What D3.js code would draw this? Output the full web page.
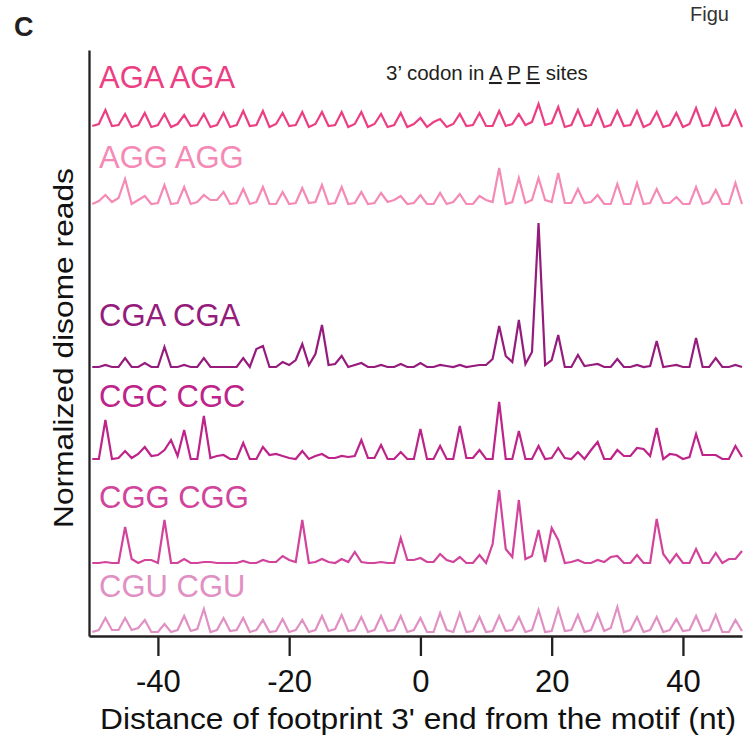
<!DOCTYPE html>
<html>
<head>
<meta charset="utf-8">
<script src="https://cdn.jsdelivr.net/npm/d3@7"></script>
<style>
  body { margin: 0; background: #fff; }
  svg { display: block; font-family: "Liberation Sans", Arial, Helvetica, sans-serif; }
</style>
</head>
<body>
<div id="display"></div>
<script>
// distance of footprint 3' end from the motif (nt)
const positions = d3.range(-50, 50);
const xTicks = [-40, -20, 0, 20, 40];

const codons = ['AGA AGA', 'AGG AGG', 'CGA CGA', 'CGC CGC', 'CGG CGG', 'CGU CGU'];

// normalized disome reads, one value per position
const aga = [0.1,0.3,1.7, 0.1,0.2,1.3, 0,0.2,1.4, 0,0.2,1.3, 0,0.3,1.2, 0.1,0.2,1.3, 0,0.2,1.4, 0,0.2,1.6, 0.1,0.2,1.6, 0,0.3,1.4,
  0.1,0.2,1.5, 0,0.3,1.5, 0.1,0.2,1.5, 0,0.3,1.5, 0,0.3,1.3, 0,0.2,1.4, 0,0.3,0.9, 0,0.5,0.8, 0,0.3,1.3, 0.1,0.2,1.4,
  0.1,0.1,1.6, 0.1,0.3,1.3, 0.2,0.5,2.3, 0.2,0.4,2.0, 0,0.2,1.7, 0.1,0.2,1.7, 0,0.2,1.6, 0.1,0.2,1.6, 0,0.3,1.5, 0,0.2,1.4,
  0,0.3,1.9, 0.1,0.2,1.8, 0.1,0.2,1.6, 0];
const agg = [0,0.3,0.9, 0.2,0.6,2.5, 0,0.4,0.8, 0,0.1,1.9, 0,0.1,1.7, 0,0.2,0.9, 0.4,0.4,1.2, 0,0.1,1.5, 0,0.2,1.7, 0,0,1.2,
  0,0.1,1.6, 0.1,0.2,1.9, 0,0.1,1.7, 0,0.1,1.2, 0,0.1,1.1, 0.2,0.4,0.8, 0,0.1,0.9, 0,0,1.1, 0,0.2,1.0, 0,0,0.8,
  0.4,0.2,3.6, 0,0.2,2.6, 0.1,0.4,2.6, 0.4,0.2,3.1, 0.1,0.1,1.5, 0.1,0.2,0.9, 0,0,2.0, 0,0,2.1, 0,0.1,1.5, 0.1,0.1,0.7,
  0,0,1.7, 0,0.2,1.4, 0,0,2.1, 0];
const cga = [0,0,0.2, 0,0,0.9, 0,0,0.4, 0,0,2.0, 0,0,0.2, 0,0,0.9, 0,0,0, 0,0,0.9, 0,1.8,2.1, 0,0,0.5,
  0.2,0.7,2.3, 0.2,1.3,4.2, 0.2,0.3,1.1, 0,0.2,0.4, 0,0,0.2, 0,0,0.3, 0,0,0.4, 0,0,0.2, 0.1,0,0.2, 0,0.1,0.2,
  0.2,0.8,4.1, 1.1,0.5,4.7, 0.3,1.5,14.4, 0.2,0.7,3.2, 0,0,1.2, 0.1,0.2,0.3, 0,0,0.8, 0,0,0.2, 0,0.1,2.6, 0,0.1,0.2,
  0,0,2.9, 0,0,0.9, 0,0,0.2, 0];
const cgc = [0,0,3.9, 0,0.1,0.8, 0.1,0.5,1.2, 0.3,0.4,0.9, 1.9,0.3,2.9, 0,0,4.3, 0.1,0.3,0.4, 0,0,1.6, 0,0,1.2, 0.4,0.5,0.3,
  0.1,0,0.8, 0,0.3,0.5, 0.1,0.1,0.3, 0.2,0.3,1.9, 0.1,0.1,1.4, 0,0,0.7, 0,0,3.0, 0,0,1.3, 0,0,3.3, 0.1,0.1,0.9,
  0,0,5.7, 0,0,2.8, 0,0,1.3, 0,0.1,1.1, 0.1,0,0.7, 0,0.9,1.7, 0,0,0.9, 0.3,0.3,1.1, 1.0,0.3,3.1, 0,0.5,0.4,
  0,0.2,2.5, 0.4,0.4,0.4, 0,0,1.3, 0.2];
const cgg = [0,0,0.1, 0,0,3.6, 0.4,0,0.3, 0.3,0,4.3, 0,0,0.4, 0,0,0.1, 0.1,0,0, 0,0,0.2, 0,0,0.3, 0.1,0.1,0.7,
  0.3,0.1,4.3, 0,0.1,0.4, 0.1,0,0.4, 0.1,1.1,0.1, 0,0,0.1, 0,0,2.5, 0.3,0.3,0.5, 0.1,0.1,0.9, 0.3,0.1,0.6, 0,0,0.8,
  0,1.9,7.3, 1.4,0.6,6.3, 0.4,0.7,3.3, 0.1,3.5,2.3, 0,0.1,0.3, 0,0,0.3, 0.1,0.6,0.7, 0,0,0.8, 0,0,4.4, 0.9,0,0.9,
  0,0,1.4, 0,0,1.0, 0,0.4,0.4, 1.2];
const cgu = [0,0.2,1.4, 0.2,0.2,1.4, 0.2,0.4,1.2, 0,0,0.8, 0,0.2,1.6, 0.1,0.3,2.3, 0,0.2,1.4, 0.1,0.2,1.4, 0,0.2,1.2, 0,0.1,1.3,
  0,0.2,1.2, 0,0.2,1.6, 0.1,0.3,1.7, 0.1,0.2,1.5, 0,0.2,1.6, 0.1,0.2,1.6, 0,0.2,1.4, 0,0,1.9, 0.2,0,1.9, 0,0.1,1.5,
  0,0.1,1.6, 0.1,0.2,1.5, 0,0.2,2.2, 0,0.1,2.3, 0.1,0.2,1.7, 0,0.2,1.8, 0.1,0.4,2.5, 0,0.2,1.5, 0,0.2,1.5, 0,0.2,1.3,
  0.1,0.2,1.6, 0.1,0.2,1.7, 0,0,1.2, 0.1];

const series = [aga, agg, cga, cgc, cgg, cgu];

// layout: where each trace sits in the stack, and how high its name is above it
const trackOffsets = [50.9, 43.2, 26.9, 17.7, 7.3, 0.4];
const labelLift = [3.9, 3.6, 4.1, 5.2, 5.5, 3.5];
const colors = ['#ec3f83', '#f48ab5', '#951c7d', '#bd2389', '#d2449b', '#e190c3'];

const width = 756;
const height = 738;

const svg = d3.select('#display').append('svg')
    .attr('width', width)
    .attr('height', height);

const x = d3.scaleLinear().domain([-50.5, 49]).range([89, 742]);
const y = d3.scaleLinear().domain([0, 58.6]).range([636, 50]);

const line = d3.line()
    .x(function (d, i) { return x(positions[i]); })
    .y(function (d) { return y(d.offset + d.v); });

const track = svg.selectAll('g.track')
    .data(series)
    .enter()
    .append('g')
    .attr('class', 'track');

track.append('path')
    .attr('fill', 'none')
    .attr('stroke', function (d, i) { return colors[i]; })
    .attr('stroke-width', 2.2)
    .attr('d', function (d, i) {
        return line(d.map(function (v) { return { v: v, offset: trackOffsets[i] }; }));
    });

track.append('text')
    .attr('x', 99)
    .attr('y', function (d, i) { return y(trackOffsets[i] + labelLift[i]); })
    .attr('fill', function (d, i) { return colors[i]; })
    .attr('font-size', 31)
    .text(function (d, i) { return codons[i]; });

// axes
const xAxis = svg.append('g')
    .attr('transform', 'translate(0,' + y(0) + ')')
    .call(d3.axisBottom(x)
        .tickValues(xTicks)
        .tickFormat(function (d) { return String(d); })
        .tickSize(20).tickSizeOuter(0).tickPadding(14));

const yAxis = svg.append('g')
    .attr('transform', 'translate(' + x.range()[0] + ',0)')
    .call(d3.axisLeft(y).tickValues([]).tickSizeOuter(0));

svg.selectAll('.domain, .tick line')
    .attr('stroke', '#231f20')
    .attr('stroke-width', 2.3);

xAxis.selectAll('.tick text')
    .attr('font-size', 31)
    .attr('font-family', null)
    .attr('fill', '#111');

svg.append('text')
    .attr('x', 100)
    .attr('y', 729)
    .attr('font-size', 29.5)
    .attr('textLength', 636)
    .attr('lengthAdjust', 'spacingAndGlyphs')
    .attr('fill', '#111')
    .text("Distance of footprint 3' end from the motif (nt)");

svg.append('text')
    .attr('transform', 'translate(73,348) rotate(-90)')
    .attr('text-anchor', 'middle')
    .attr('font-size', 27)
    .attr('textLength', 360)
    .attr('lengthAdjust', 'spacingAndGlyphs')
    .attr('fill', '#111')
    .text('Normalized disome reads');

// site annotation with underlined A P E
const note = svg.append('text')
    .attr('x', 386)
    .attr('y', 80)
    .attr('font-size', 20.5)
    .attr('fill', '#231f20');
note.append('tspan').text('3\u2019 codon in ');
['A', 'P', 'E'].forEach(function (s) {
    note.append('tspan').style('text-decoration', 'underline').text(s);
    note.append('tspan').text(' ');
});
note.append('tspan').text('sites');

svg.append('text')
    .attr('x', 14)
    .attr('y', 36)
    .attr('font-size', 27)
    .attr('font-weight', 'bold')
    .attr('fill', '#231f20')
    .text('C');

svg.append('text')
    .attr('x', 690)
    .attr('y', 21)
    .attr('font-size', 20)
    .attr('fill', '#333')
    .text('Figu');
</script>
</body>
</html>
